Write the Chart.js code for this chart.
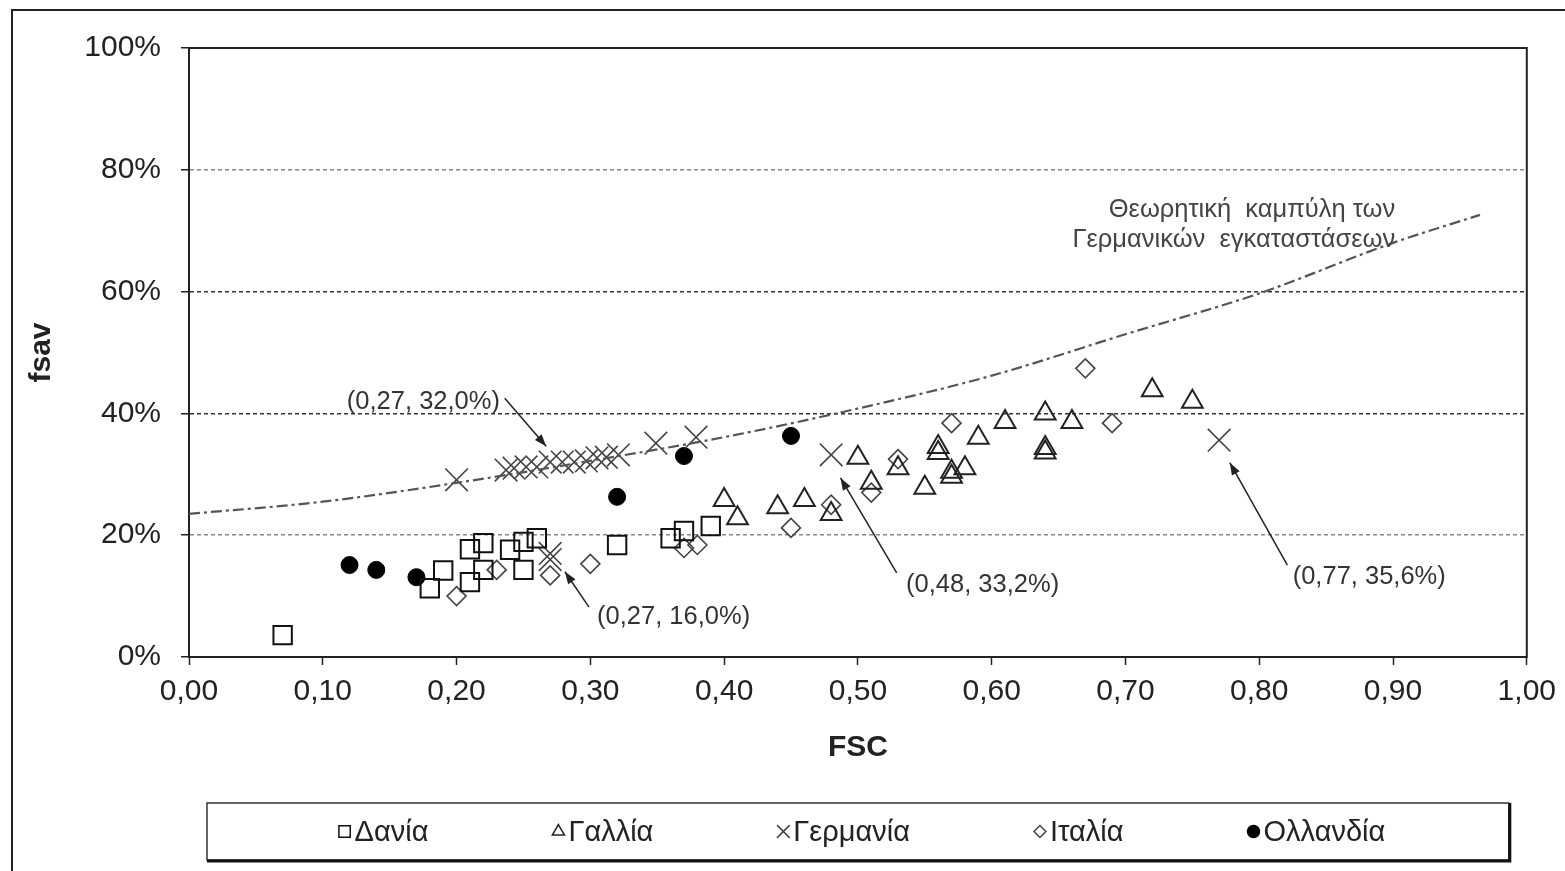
<!DOCTYPE html>
<html>
<head>
<meta charset="utf-8">
<script src="https://cdn.jsdelivr.net/npm/chart.js@4.4.0/dist/chart.umd.min.js"></script>
<style>
  html, body { margin: 0; background: #fff; }
  canvas { display: block; }
</style>
</head>
<body>
<canvas id="chart" width="1565" height="871"></canvas>
<script>
// series names (legend)
const seriesNames = ['Δανία', 'Γαλλία', 'Γερμανία', 'Ιταλία', 'Ολλανδία'];

// Δανία (squares)
const daniaX = [0.07, 0.18, 0.19, 0.21, 0.21, 0.22, 0.22, 0.24, 0.25, 0.25, 0.26, 0.32, 0.36, 0.37, 0.39];
const daniaY = [3.6, 11.3, 14.2, 12.3, 17.7, 18.7, 14.3, 17.6, 14.3, 18.9, 19.5, 18.4, 19.5, 20.7, 21.5];

// Γαλλία (triangles)
const galliaX = [0.40, 0.41, 0.44, 0.46, 0.48, 0.50, 0.51, 0.53, 0.55, 0.56, 0.56, 0.57, 0.57, 0.58, 0.59, 0.61, 0.64, 0.64, 0.64, 0.66, 0.72, 0.75];
const galliaY = [25.8, 22.8, 24.6, 25.8, 23.5, 32.7, 28.6, 31.0, 27.8, 34.5, 33.5, 30.4, 29.6, 31.0, 36.0, 38.6, 40.0, 34.3, 33.6, 38.6, 43.8, 41.9];

// Γερμανία (crosses)
const germaniaX = [0.20, 0.237, 0.243, 0.252, 0.26, 0.27, 0.279, 0.288, 0.297, 0.305, 0.312, 0.321, 0.349, 0.379, 0.48, 0.77, 0.27, 0.27];
const germaniaY = [29.1, 30.7, 31.0, 31.2, 31.2, 32.0, 32.0, 32.0, 32.2, 32.7, 32.8, 33.2, 35.1, 36.1, 33.2, 35.6, 16.0, 17.0];

// Ιταλία (diamonds)
const italiaX = [0.20, 0.23, 0.27, 0.30, 0.37, 0.38, 0.45, 0.48, 0.51, 0.53, 0.57, 0.67, 0.69];
const italiaY = [10.0, 14.3, 13.4, 15.3, 17.9, 18.4, 21.2, 25.0, 27.0, 32.5, 38.4, 47.4, 38.4];

// Ολλανδία (filled circles)
const ollandiaX = [0.12, 0.14, 0.17, 0.32, 0.37, 0.45];
const ollandiaY = [15.1, 14.3, 13.1, 26.3, 33.0, 36.3];

// theoretical curve of the German installations
const curveX = [0, 0.1, 0.2, 0.3, 0.4, 0.5, 0.6, 0.7, 0.8, 0.9, 0.965];
const curveY = [23.5, 25.5, 28.6, 32.2, 36.1, 40.8, 46.2, 53.0, 59.7, 68.0, 72.6];

// axis ticks
const xTicks = [0, 0.1, 0.2, 0.3, 0.4, 0.5, 0.6, 0.7, 0.8, 0.9, 1.0];
const yTicks = [0, 20, 40, 60, 80, 100];

// callouts: label, text anchor (data units), arrow from -> to
const callouts = [
  { text: '(0,27, 32,0%)', tx: 0.118, ty: 41.9, ax: 0.236, ay: 42.5, bx: 0.267, by: 34.6 },
  { text: '(0,27, 16,0%)', tx: 0.305, ty: 6.6, ax: 0.299, ay: 8.2, bx: 0.281, by: 14.0 },
  { text: '(0,48, 33,2%)', tx: 0.536, ty: 11.8, ax: 0.529, ay: 13.8, bx: 0.487, by: 29.4 },
  { text: '(0,77, 35,6%)', tx: 0.825, ty: 13.1, ax: 0.821, ay: 15.1, bx: 0.778, by: 31.9 }
];
const curveLabel = ['Θεωρητική  καμπύλη των', 'Γερμανικών  εγκαταστάσεων'];

const pts = (xs, ys) => xs.map((x, i) => ({ x: x, y: ys[i] }));
const sans = "'Liberation Sans', Arial, sans-serif";

const extras = {
  id: 'extras',
  beforeDraw(chart) {
    const { ctx, width, height } = chart;
    ctx.save();
    ctx.fillStyle = '#fff';
    ctx.fillRect(0, 0, width, height);
    ctx.strokeStyle = '#222';
    ctx.lineWidth = 2;
    ctx.strokeRect(12, 10, width + 20, height + 20);
    ctx.restore();
  },
  beforeDatasetsDraw(chart) {
    const { ctx, chartArea: a } = chart;
    ctx.save();
    ctx.strokeStyle = '#222';
    ctx.lineWidth = 2;
    ctx.strokeRect(a.left, a.top, a.right - a.left, a.bottom - a.top);
    ctx.restore();
  },
  afterDatasetsDraw(chart) {
    const { ctx } = chart;
    const sx = chart.scales.x, sy = chart.scales.y;
    ctx.save();
    ctx.font = '25.5px ' + sans;
    ctx.fillStyle = '#333';
    ctx.strokeStyle = '#222';
    ctx.lineWidth = 1.5;
    ctx.textBaseline = 'middle';
    callouts.forEach(c => {
      ctx.textAlign = 'left';
      ctx.fillText(c.text, sx.getPixelForValue(c.tx), sy.getPixelForValue(c.ty));
      const x1 = sx.getPixelForValue(c.ax), y1 = sy.getPixelForValue(c.ay);
      const x2 = sx.getPixelForValue(c.bx), y2 = sy.getPixelForValue(c.by);
      ctx.beginPath();
      ctx.moveTo(x1, y1);
      ctx.lineTo(x2, y2);
      ctx.stroke();
      const ang = Math.atan2(y2 - y1, x2 - x1);
      ctx.beginPath();
      ctx.moveTo(x2, y2);
      ctx.lineTo(x2 - 13 * Math.cos(ang - 0.35), y2 - 13 * Math.sin(ang - 0.35));
      ctx.lineTo(x2 - 13 * Math.cos(ang + 0.35), y2 - 13 * Math.sin(ang + 0.35));
      ctx.closePath();
      ctx.fillStyle = '#222';
      ctx.fill();
      ctx.fillStyle = '#333';
    });
    ctx.textAlign = 'right';
    ctx.fillStyle = '#444';
    const rx = sx.getPixelForValue(0.9016);
    ctx.fillText(curveLabel[0], rx, sy.getPixelForValue(73.4));
    ctx.fillText(curveLabel[1], rx, sy.getPixelForValue(68.5));
    ctx.restore();
  },
  afterDraw(chart) {
    const { ctx, chartArea: a } = chart;
    const x0 = a.left + 18, x1 = a.right - 18, y0 = a.bottom + 146, y1 = y0 + 57;
    ctx.save();
    ctx.strokeStyle = '#333';
    ctx.lineWidth = 1.5;
    ctx.strokeRect(x0, y0, x1 - x0, y1 - y0);
    ctx.lineWidth = 3;
    ctx.strokeStyle = '#111';
    ctx.beginPath();
    ctx.moveTo(x0, y1 + 1);
    ctx.lineTo(x1 + 1, y1 + 1);
    ctx.lineTo(x1 + 1, y0);
    ctx.stroke();

    ctx.font = '29px ' + sans;
    ctx.textBaseline = 'middle';
    ctx.textAlign = 'left';
    const items = chart.data.datasets.filter(d => d.inLegend);
    const markW = 16, gap = 124;
    const widths = items.map(d => markW + ctx.measureText(d.label).width);
    const total = widths.reduce((s, w) => s + w, 0) + gap * (items.length - 1);
    let x = (x0 + x1) / 2 - total / 2 + 4;
    const cy = (y0 + y1) / 2;
    items.forEach((d, i) => {
      ctx.fillStyle = d.backgroundColor;
      ctx.strokeStyle = d.borderColor;
      ctx.lineWidth = 1.5;
      Chart.helpers.drawPoint(ctx, {
        pointStyle: d.pointStyle, rotation: 0,
        radius: d.legendRadius, borderWidth: 1.5
      }, x + 6, cy);
      ctx.fillStyle = '#222';
      ctx.fillText(d.label, x + markW, cy + 1);
      x += widths[i] + gap;
    });
    ctx.restore();
  }
};

new Chart(document.getElementById('chart'), {
  type: 'scatter',
  data: {
    datasets: [
      {
        label: 'curve', type: 'line', data: pts(curveX, curveY),
        borderColor: '#555', borderWidth: 2.2, borderDash: [11, 4, 3, 4],
        pointRadius: 0, tension: 0.4, cubicInterpolationMode: 'monotone', fill: false
      },
      {
        label: seriesNames[0], inLegend: true, data: pts(daniaX, daniaY),
        pointStyle: 'rect', pointRadius: 13, borderWidth: 2,
        borderColor: '#111', backgroundColor: 'rgba(255,255,255,0)', legendRadius: 8
      },
      {
        label: seriesNames[1], inLegend: true, data: pts(galliaX, galliaY),
        pointStyle: 'triangle', pointRadius: 12, borderWidth: 2,
        borderColor: '#222', backgroundColor: 'rgba(255,255,255,0)', legendRadius: 7
      },
      {
        label: seriesNames[2], inLegend: true, data: pts(germaniaX, germaniaY),
        pointStyle: 'crossRot', pointRadius: 16, borderWidth: 1.6,
        borderColor: '#444', backgroundColor: 'rgba(255,255,255,0)', legendRadius: 9
      },
      {
        label: seriesNames[3], inLegend: true, data: pts(italiaX, italiaY),
        pointStyle: 'rectRot', pointRadius: 9.5, borderWidth: 1.6,
        borderColor: '#444', backgroundColor: 'rgba(255,255,255,0)', legendRadius: 6
      },
      {
        label: seriesNames[4], inLegend: true, data: pts(ollandiaX, ollandiaY),
        pointStyle: 'circle', pointRadius: 8.5, borderWidth: 1,
        borderColor: '#000', backgroundColor: '#000', legendRadius: 6
      }
    ]
  },
  options: {
    responsive: false,
    animation: false,
    devicePixelRatio: 1,
    layout: { padding: { left: 24, top: 48, right: 32, bottom: 104 } },
    plugins: { legend: { display: false }, tooltip: { enabled: false } },
    scales: {
      x: {
        type: 'linear', min: 0, max: 1,
        afterFit: s => { s.height = 110; },
        afterBuildTicks: s => { s.ticks = xTicks.map(v => ({ value: v })); },
        ticks: {
          padding: 9, color: '#222', font: { family: sans, size: 30 },
          callback: v => Number(v).toFixed(2).replace('.', ',')
        },
        grid: { drawOnChartArea: false, tickLength: 8, tickColor: '#222', tickWidth: 1.5 },
        border: { color: '#222', width: 2 },
        title: {
          display: true, text: 'FSC', color: '#222',
          font: { family: sans, size: 30, weight: 'bold' }, padding: { top: 0, bottom: 1 }
        }
      },
      y: {
        type: 'linear', min: 0, max: 100,
        afterFit: s => { s.width = 165; },
        afterBuildTicks: s => { s.ticks = yTicks.map(v => ({ value: v })); },
        ticks: {
          padding: 20, color: '#222', font: { family: sans, size: 30 },
          callback: v => v + '%'
        },
        grid: {
          color: c => (c.tick && (c.tick.value === 40 || c.tick.value === 60)) ? '#333' : '#888',
          lineWidth: 1.5, tickLength: 8, tickColor: '#222', tickWidth: 1.5, tickBorderDash: []
        },
        border: { color: '#222', width: 2, dash: [4, 3] },
        title: {
          display: true, text: 'fsav', color: '#222',
          font: { family: sans, size: 30, weight: 'bold' }, padding: { top: 0, bottom: 0 }
        }
      }
    }
  },
  plugins: [extras]
});
</script>
</body>
</html>
